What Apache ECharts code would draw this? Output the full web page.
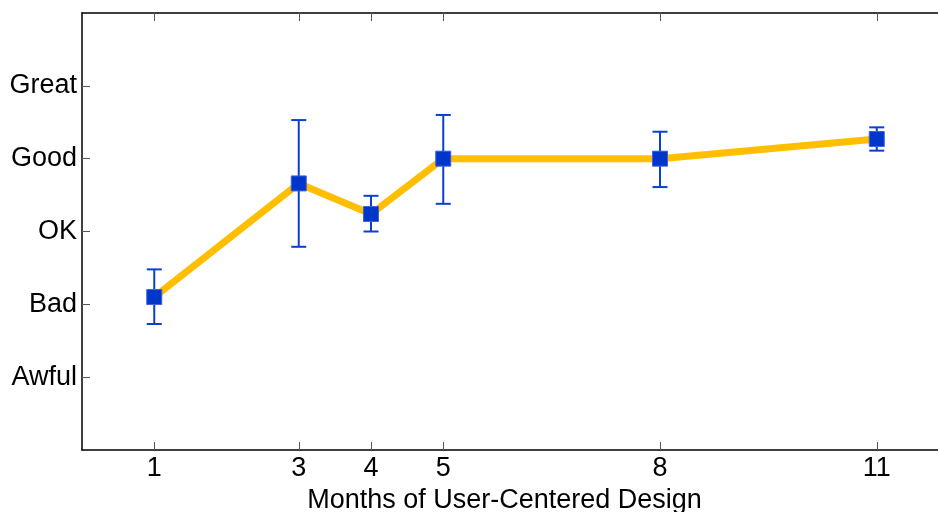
<!DOCTYPE html>
<html>
<head>
<meta charset="utf-8">
<script src="https://cdn.jsdelivr.net/npm/echarts@6/dist/echarts.min.js"></script>
<style>
html,body{margin:0;padding:0;background:#fff;}
#chart{width:938px;height:512px;}
</style>
</head>
<body>
<div id="chart"></div>
<script>
// ---- data ----
var months = [1, 3, 4, 5, 8, 11];
var meanRating = [2.10, 3.66, 3.24, 4.00, 4.00, 4.27];
var lowerBound = [1.73, 2.79, 3.00, 3.38, 3.61, 4.11];
var upperBound = [2.48, 4.53, 3.49, 4.60, 4.37, 4.43];
var ratingLabels = ['Awful', 'Bad', 'OK', 'Good', 'Great'];
var ratingTicks = [1, 2, 3, 4, 5];
var xTitle = 'Months of User-Centered Design';

var FONT = "'Liberation Sans', Arial, Helvetica, sans-serif";
var chart = echarts.init(document.getElementById('chart'), null, {renderer: 'canvas'});

var lineData = months.map(function (m, i) { return [m, meanRating[i]]; });
var errData = months.map(function (m, i) { return [m, meanRating[i], lowerBound[i], upperBound[i]]; });

function renderErr(params, api) {
  var x = api.value(0);
  var pMean = api.coord([x, api.value(1)]);
  var pLow = api.coord([x, api.value(2)]);
  var pHigh = api.coord([x, api.value(3)]);
  var cap = 7.5, half = 7.5;
  var st = {stroke: '#0a40d0', lineWidth: 2};
  return {
    type: 'group',
    children: [
      {type: 'line', shape: {x1: pLow[0], y1: pLow[1], x2: pHigh[0], y2: pHigh[1]}, style: st},
      {type: 'line', shape: {x1: pLow[0] - cap, y1: pLow[1], x2: pLow[0] + cap, y2: pLow[1]}, style: st},
      {type: 'line', shape: {x1: pHigh[0] - cap, y1: pHigh[1], x2: pHigh[0] + cap, y2: pHigh[1]}, style: st},
      {type: 'rect', shape: {x: pMean[0] - half, y: pMean[1] - half, width: half * 2, height: half * 2},
        style: {fill: '#0036cc', stroke: '#3d63d8', lineWidth: 1}}
    ]
  };
}

var option = {
  animation: false,
  backgroundColor: '#ffffff',
  grid: {left: 82, right: -11, top: 13, bottom: 62, containLabel: false, outerBoundsMode: 'none'},
  xAxis: [{
    type: 'value', min: 0, max: 12, position: 'bottom',
    name: xTitle, nameLocation: 'middle', nameGap: 34,
    nameTextStyle: {fontFamily: FONT, fontSize: 27, color: '#000', padding: [0, 22, 0, 0]},
    axisLine: {show: true, lineStyle: {color: '#000', width: 1.5}},
    axisTick: {show: true, inside: true, length: 8, customValues: months, lineStyle: {color: '#555', width: 1}},
    axisLabel: {show: true, customValues: months, margin: 5, fontFamily: FONT, fontSize: 27, color: '#000'},
    splitLine: {show: false}
  }, {
    type: 'value', min: 0, max: 12, position: 'top',
    axisLine: {show: true, lineStyle: {color: '#000', width: 1.5}},
    axisTick: {show: true, inside: true, length: 8, customValues: months, lineStyle: {color: '#555', width: 1}},
    axisLabel: {show: false},
    splitLine: {show: false}
  }],
  yAxis: {
    type: 'value', min: 0, max: 6,
    axisLine: {show: true, lineStyle: {color: '#000', width: 1.5}},
    axisTick: {show: true, inside: true, length: 8, customValues: ratingTicks, lineStyle: {color: '#555', width: 1}},
    axisLabel: {show: true, customValues: ratingTicks, margin: 5, fontFamily: FONT, fontSize: 27, color: '#000',
      formatter: function (v) { return ratingLabels[Math.round(v) - 1] || ''; }},
    splitLine: {show: false}
  },
  series: [{
    type: 'line', data: lineData, xAxisIndex: 0,
    symbol: 'none', lineStyle: {color: '#ffbf00', width: 7}, z: 2
  }, {
    type: 'custom', data: errData, xAxisIndex: 0,
    renderItem: renderErr, z: 3
  }]
};
chart.setOption(option);
</script>
</body>
</html>
